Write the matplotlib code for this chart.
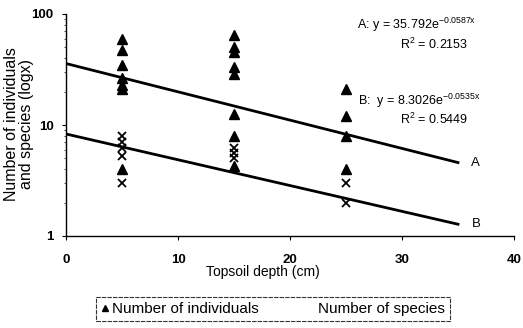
import numpy as np
import matplotlib
matplotlib.use("Agg")
import matplotlib.pyplot as plt
from matplotlib.lines import Line2D
from matplotlib.ticker import LogLocator, NullFormatter, FixedLocator

plt.rcParams['font.family'] = ['Liberation Sans', 'DejaVu Sans']
plt.rcParams['mathtext.fontset'] = 'custom'
plt.rcParams['mathtext.rm'] = 'Liberation Sans'
plt.rcParams['mathtext.it'] = 'Liberation Sans'

# data
ind_depth = [5, 5, 5, 5, 5, 5, 5,
             15, 15, 15, 15, 15, 15, 15, 15,
             25, 25, 25, 25]
ind_values = [60, 47, 35, 26.5, 23, 21, 4,
              65, 50, 45, 33, 29, 12.5, 8, 4.3,
              21, 12, 8, 4]
sp_depth = [5, 5, 5, 5, 5,
            15, 15, 15,
            25, 25]
sp_values = [8, 7, 6.2, 5.3, 3,
             6.2, 5.6, 5.0,
             3, 2]
fitA = (35.792, -0.0587)
fitB = (8.3026, -0.0535)
fit_range = [0, 35]

fig = plt.figure(figsize=(5.23, 3.28), dpi=100)
ax = fig.add_axes([66/523, 1-236/328, (514-66)/523, (236-14)/328])

xf = np.linspace(fit_range[0], fit_range[1], 100)
ax.plot(xf, fitA[0]*np.exp(fitA[1]*xf), color='black', lw=2.0, zorder=2)
ax.plot(xf, fitB[0]*np.exp(fitB[1]*xf), color='black', lw=2.0, zorder=2)

ax.plot(ind_depth, ind_values, linestyle='none', marker='^', color='black',
        markersize=6.5, zorder=3)
ax.plot(sp_depth, sp_values, linestyle='none', marker='x', color='black',
        markersize=6, markeredgewidth=1.3, zorder=3)

ax.set_yscale('log')
ax.set_ylim(1, 100)
ax.set_xlim(0, 40)
ax.xaxis.set_major_locator(FixedLocator([0, 10, 20, 30, 40]))
ax.yaxis.set_major_locator(FixedLocator([1, 10, 100]))
ax.yaxis.set_major_formatter(matplotlib.ticker.FuncFormatter(lambda v, p: f"{int(v)}"))
ax.yaxis.set_minor_locator(LogLocator(base=10, subs=np.arange(2, 10)))
ax.yaxis.set_minor_formatter(NullFormatter())
ax.tick_params(axis='both', which='major', labelsize=9.5, length=3, width=0.8, direction='out')
ax.tick_params(axis='y', which='minor', length=1.5, width=0.5)
ax.tick_params(axis='x', pad=10)
ax.tick_params(axis='y', pad=6)
for lab in ax.get_xticklabels() + ax.get_yticklabels():
    lab.set_fontweight('bold')

ax.spines['top'].set_visible(False)
ax.spines['right'].set_visible(False)
ax.spines['left'].set_linewidth(1.0)
ax.spines['bottom'].set_linewidth(1.0)

fig.text(19/523, 1-124/328, 'Number of individuals\nand species (logx)', fontsize=11.5,
         rotation=90, ha='center', va='center', linespacing=1.0)
fig.text(263/523, 1-272/328, 'Topsoil depth (cm)', fontsize=10, ha='center', va='center')

ax.text(357/523, 1-25/328, 'A: y = 35.792e$^{-0.0587x}$', transform=fig.transFigure,
        fontsize=9, ha='left', va='center')
ax.text(400/523, 1-44/328, 'R$^{2}$ = 0.2153', transform=fig.transFigure,
        fontsize=9, ha='left', va='center')
ax.text(358/523, 1-101/328, 'B:  y = 8.3026e$^{-0.0535x}$', transform=fig.transFigure,
        fontsize=9, ha='left', va='center')
ax.text(400/523, 1-119/328, 'R$^{2}$ = 0.5449', transform=fig.transFigure,
        fontsize=9, ha='left', va='center')
ax.text(36.2, fitA[0]*np.exp(fitA[1]*35), 'A', fontsize=9.5, ha='left', va='center')
ax.text(36.2, fitB[0]*np.exp(fitB[1]*35), 'B', fontsize=9.5, ha='left', va='center')

handles = [Line2D([], [], linestyle='none', marker='^', color='black', markersize=4.5),
           Line2D([], [], linestyle='none', marker='none', color='black')]
leg = fig.legend(handles, ['Number of individuals', 'Number of species'],
                 loc='center', bbox_to_anchor=(273/523, 1-309/328), ncol=2,
                 fontsize=11, frameon=True, fancybox=False, handlelength=0.5,
                 handletextpad=0.2, columnspacing=3.2, borderpad=0.35)
leg.get_frame().set_edgecolor('black')
leg.get_frame().set_linewidth(0.8)
leg.get_frame().set_linestyle((0, (4, 1)))

fig.savefig('out.png', dpi=100)
